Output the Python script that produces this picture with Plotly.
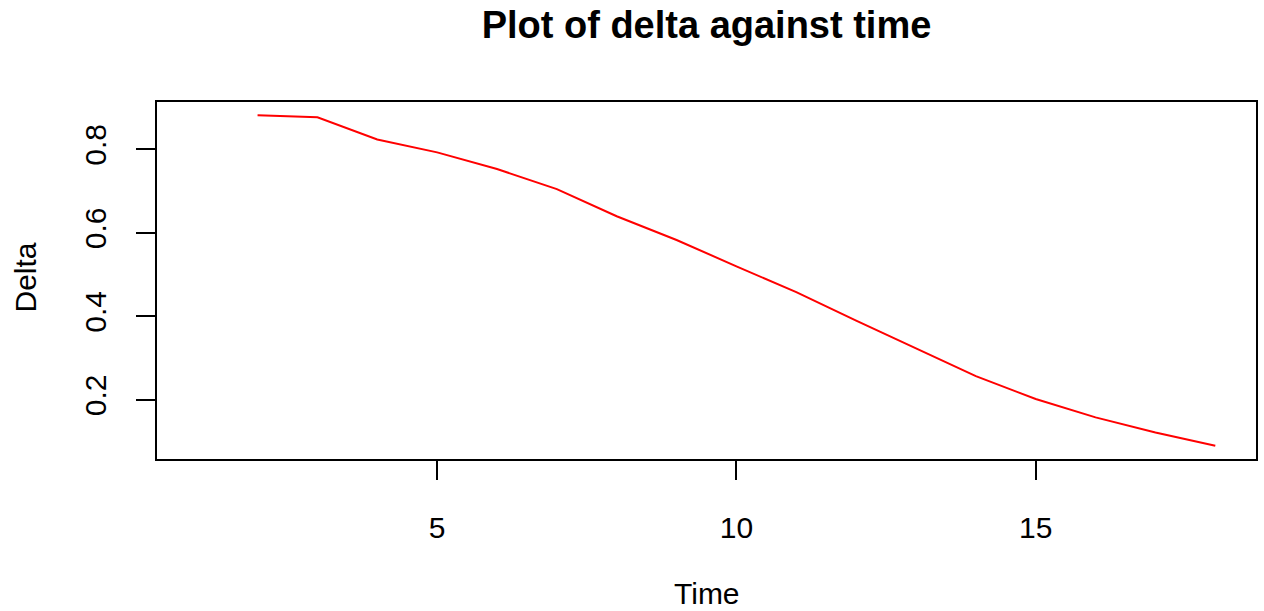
import plotly.graph_objects as go

# Delta values recorded at each time step
time = [2, 3, 4, 5, 6, 7, 8, 9, 10, 11, 12, 13, 14, 15, 16, 17, 18]
delta = [0.882, 0.877, 0.824, 0.793, 0.753, 0.705, 0.640, 0.583, 0.520,
         0.458, 0.390, 0.324, 0.257, 0.202, 0.158, 0.122, 0.090]

x_ticks = [5, 10, 15]
y_ticks = [0.2, 0.4, 0.6, 0.8]
y_tick_labels = ["0.2", "0.4", "0.6", "0.8"]

# x axis spans 1..18 with 4% padding on each side
x_lo, x_hi = 1, 18
x_pad = 0.04 * (x_hi - x_lo)
y_lo, y_hi = min(delta), max(delta)
y_pad = 0.04 * (y_hi - y_lo)

FONT = "Liberation Sans, Arial, sans-serif"

fig = go.Figure()
fig.add_trace(go.Scatter(
    x=time, y=delta, mode="lines",
    line=dict(color="#ff0000", width=2),
    showlegend=False, hoverinfo="skip",
))

axis_common = dict(
    showline=True, linecolor="#000000", linewidth=2, mirror=True,
    ticks="outside", ticklen=19, tickwidth=2, tickcolor="#000000",
    showgrid=False, zeroline=False,
    tickfont=dict(family=FONT, size=30, color="#000000"),
)

fig.update_layout(
    width=1264, height=611,
    margin=dict(l=157, r=6, t=102, b=152),
    paper_bgcolor="#ffffff", plot_bgcolor="#ffffff",
    font=dict(family=FONT, color="#000000"),
    title=dict(
        text="<b>Plot of delta against time</b>",
        font=dict(family=FONT, size=38, color="#000000"),
        x=0.5, xref="paper", xanchor="center",
        y=1 - 24.5 / 611, yref="container", yanchor="middle",
    ),
    xaxis=dict(
        range=[x_lo - x_pad, x_hi + x_pad],
        tickvals=x_ticks, ticktext=[str(v) for v in x_ticks],
        ticklabelstandoff=22,
        **axis_common,
    ),
    yaxis=dict(
        range=[y_lo - y_pad, y_hi + y_pad],
        tickvals=y_ticks, ticktext=y_tick_labels,
        tickangle=-90, ticklabelstandoff=18,
        **axis_common,
    ),
    annotations=[
        dict(text="Time", xref="paper", yref="paper", x=0.5, y=0,
             xanchor="center", yanchor="middle", yshift=-134, showarrow=False,
             font=dict(family=FONT, size=30, color="#000000")),
        dict(text="Delta", xref="paper", yref="paper", x=0, y=0.5,
             xanchor="center", yanchor="middle", xshift=-132, yshift=3,
             textangle=-90, showarrow=False,
             font=dict(family=FONT, size=30, color="#000000")),
    ],
)

fig.write_html("out.html")
